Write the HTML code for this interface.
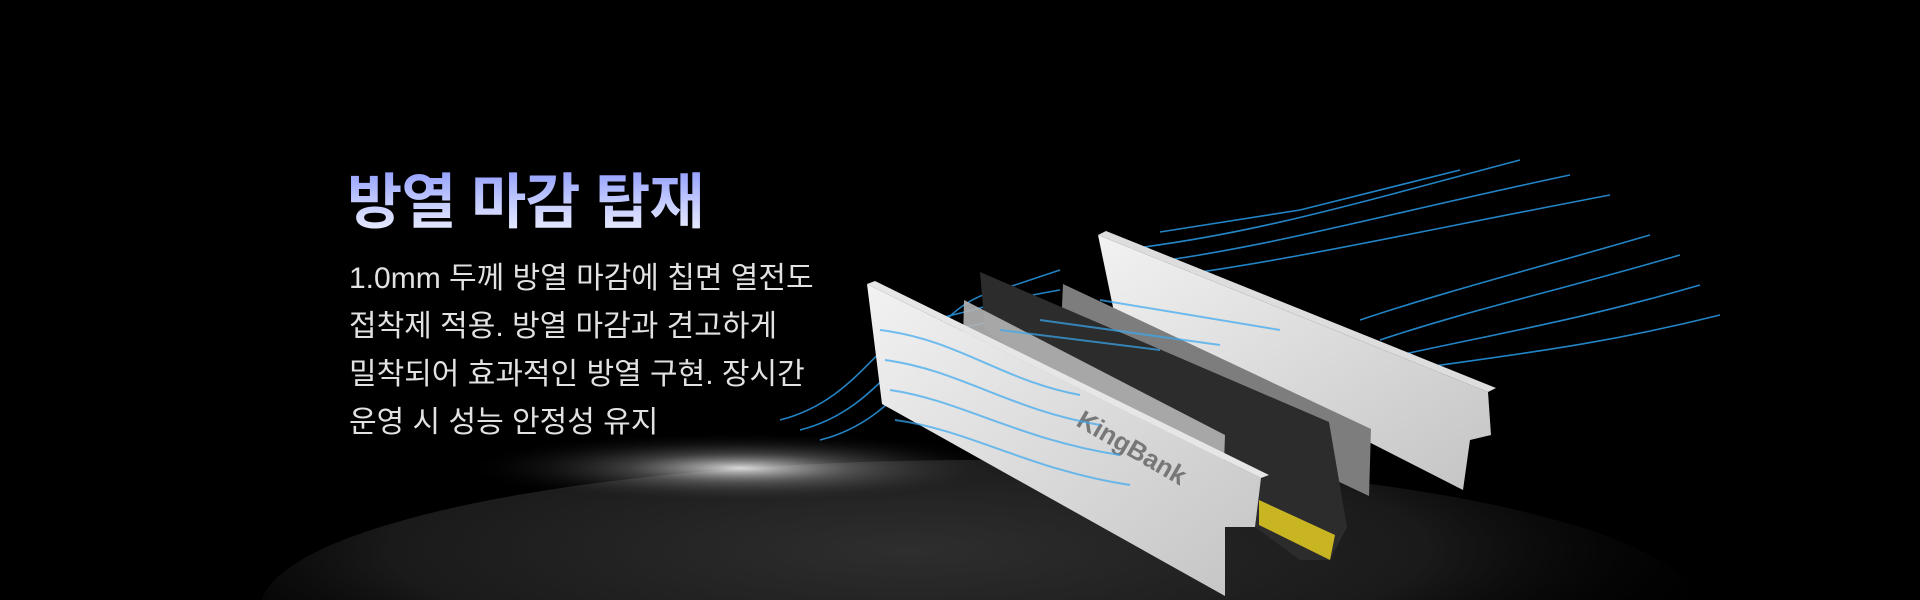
<!DOCTYPE html>
<html><head><meta charset="utf-8"><style>
html,body{margin:0;padding:0;background:#000;overflow:hidden;width:1920px;height:600px;}
#c{position:relative;width:1920px;height:600px;overflow:hidden;background:#000;}
svg{position:absolute;left:0;top:0;}
h1{position:absolute;left:347px;top:167px;margin:0;font:bold 60px "Liberation Sans","Noto Sans CJK KR",sans-serif;letter-spacing:-1px;
background:linear-gradient(180deg,#8f9cff 0%,#c9d0ff 55%,#f2f4ff 100%);-webkit-background-clip:text;background-clip:text;color:transparent;line-height:72px;white-space:nowrap;}
p{position:absolute;left:349px;top:255px;margin:0;font:30px/48px "Liberation Sans","Noto Sans CJK KR",sans-serif;color:#e2e2e2;white-space:nowrap;}
</style></head><body><div id="c">
<svg width="1920" height="600" viewBox="0 0 1920 600">
<defs>
<radialGradient id="gl" cx="0.5" cy="0.5" r="0.5"><stop offset="0" stop-color="#fff" stop-opacity="0.85"/><stop offset="0.4" stop-color="#999" stop-opacity="0.4"/><stop offset="1" stop-color="#000" stop-opacity="0"/></radialGradient>
<radialGradient id="gr" cx="0.45" cy="0.3" r="0.6"><stop offset="0" stop-color="#2e2e2e"/><stop offset="0.6" stop-color="#1a1a1a"/><stop offset="1" stop-color="#000" stop-opacity="0"/></radialGradient>
<linearGradient id="hs" x1="0" y1="0" x2="1" y2="1"><stop offset="0" stop-color="#f2f2f2"/><stop offset="1" stop-color="#c4c4c4"/></linearGradient>
</defs>
<ellipse cx="980" cy="610" rx="720" ry="150" fill="url(#gr)"/>
<ellipse cx="740" cy="468" rx="280" ry="36" fill="url(#gl)"/>
<g stroke="#2a9ce8" stroke-width="1.6" fill="none" opacity="0.85">
<path d="M780 420 C860 400 880 330 930 320 S1000 300 1060 290"/>
<path d="M800 430 C880 410 900 340 950 330 S1020 315 1080 305"/>
<path d="M820 440 C900 420 920 350 960 345"/>
<path d="M900 380 C930 340 950 300 1000 290 L1060 270"/>
<path d="M1120 250 C1250 235 1350 205 1520 160"/>
<path d="M1130 265 C1260 250 1380 215 1570 175"/>
<path d="M1140 280 C1270 265 1400 235 1610 195"/>
<path d="M1360 320 C1450 290 1530 270 1650 235"/>
<path d="M1380 340 C1470 310 1560 290 1680 255"/>
<path d="M1400 355 C1490 335 1580 320 1700 285"/>
<path d="M1420 368 C1510 355 1600 345 1720 315"/>
<path d="M1160 232 L1300 210 L1460 170"/>
</g>
<polygon points="1098,235 1488,392 1491,435 1470,440 1463,490 1114,312" fill="url(#hs)"/>
<polygon points="1098,235 1106,231 1496,388 1488,392" fill="#ddd"/>
<polygon points="1063,284 1371,429 1369,496 1060,350" fill="#7d7d7d"/>
<polygon points="980,272 1329,422 1347,527 1330,560 1300,560 985,330" fill="#2c2c2c"/>
<polygon points="1259,500 1335,535 1330,560 1259,525" fill="#c9b422"/>
<polygon points="964,300 1225,435 1222,520 962,380" fill="#b5b5b5" opacity="0.9"/>
<polygon points="867,284 1261,478 1255,527 1225,527 1225,596 882,404" fill="url(#hs)"/>
<polygon points="867,284 875,281 1269,475 1261,478" fill="#e6e6e6"/>
<text x="1075" y="425" transform="rotate(30 1075 425)" font-family="Liberation Sans,sans-serif" font-weight="bold" font-size="26" fill="#777">KingBank</text>
<g stroke="#3aa8f0" stroke-width="2" fill="none" opacity="0.7">
<path d="M880 330 C960 340 1000 380 1080 395"/><path d="M885 360 C960 370 1010 410 1100 425"/>
<path d="M890 390 C960 400 1020 440 1120 455"/><path d="M895 420 C970 430 1030 470 1130 485"/>
<path d="M1000 330 L1160 350"/><path d="M1040 320 L1220 345"/><path d="M1100 300 L1280 330"/>
</g>
</svg>
<h1>방열 마감 탑재</h1>
<p>1.0mm 두께 방열 마감에 칩면 열전도<br>접착제 적용. 방열 마감과 견고하게<br>밀착되어 효과적인 방열 구현. 장시간<br>운영 시 성능 안정성 유지</p>
</div></body></html>
